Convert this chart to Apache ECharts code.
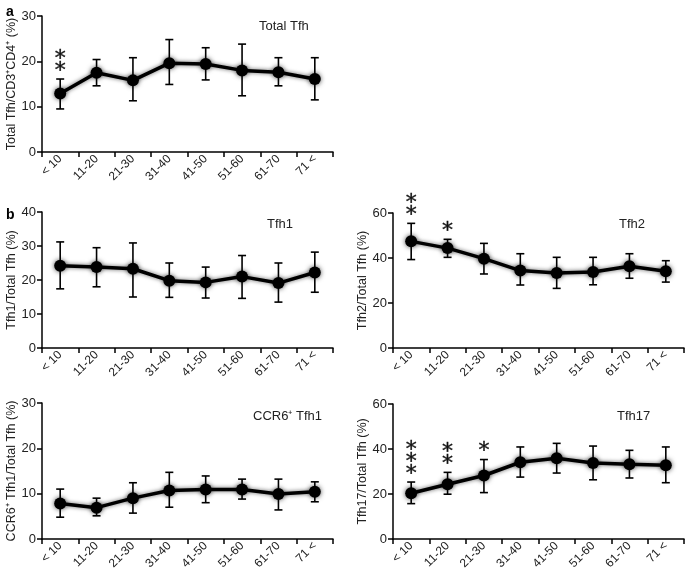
<!DOCTYPE html>
<html>
<head>
<meta charset="utf-8">
<script src="https://cdn.jsdelivr.net/npm/echarts@6/dist/echarts.min.js"></script>
<style>html,body{margin:0;padding:0;background:#fff}#c{width:685px;height:572px}</style>
</head>
<body>
<div id="c"></div>
<script>
const categories = ['< 10','11-20','21-30','31-40','41-50','51-60','61-70','71 <'];

const totalMean = [12.9,17.5,15.8,19.6,19.4,18.0,17.6,16.1];
const totalLow  = [9.5,14.6,11.3,14.9,15.9,12.4,14.6,11.5];
const totalHigh = [16.1,20.4,20.8,24.8,23.0,23.8,20.8,20.8];
const totalSig  = [2,0,0,0,0,0,0,0];

const tfh1Mean = [24.2,23.8,23.3,19.8,19.3,21.0,19.1,22.2];
const tfh1Low  = [17.4,18.0,15.0,14.9,14.7,14.6,13.5,16.4];
const tfh1High = [31.2,29.5,30.9,25.0,23.8,27.2,25.0,28.2];
const tfh1Sig  = [0,0,0,0,0,0,0,0];

const tfh2Mean = [47.4,44.4,39.7,34.4,33.3,33.8,36.3,34.1];
const tfh2Low  = [39.3,40.3,32.9,28.0,26.5,28.1,31.0,29.3];
const tfh2High = [55.4,48.3,46.5,41.9,40.3,40.3,41.9,38.8];
const tfh2Sig  = [2,1,0,0,0,0,0,0];

const ccr6Mean = [7.8,6.9,9.0,10.7,10.9,10.9,9.9,10.4];
const ccr6Low  = [4.8,5.1,5.7,7.0,8.0,8.8,6.4,8.2];
const ccr6High = [11.0,9.0,12.4,14.7,13.9,13.2,13.2,12.6];
const ccr6Sig  = [0,0,0,0,0,0,0,0];

const tfh17Mean = [20.3,24.3,28.2,34.1,35.9,33.8,33.2,32.8];
const tfh17Low  = [15.7,19.9,20.6,27.5,29.3,26.3,27.1,25.0];
const tfh17High = [25.3,29.6,35.3,40.9,42.5,41.3,39.4,40.9];
const tfh17Sig  = [3,2,1,0,0,0,0,0];

const panelTitles = ['Total Tfh','Tfh1','Tfh2','CCR6\u207A Tfh1','Tfh17'];
const yNames = ['Total Tfh/CD3\u207ACD4\u207A (%)','Tfh1/Total Tfh (%)','Tfh2/Total Tfh (%)','CCR6\u207A Tfh1/Total Tfh (%)','Tfh17/Total Tfh (%)'];
const yMax = [30,40,60,30,60];
const yInterval = [10,10,20,10,20];

const panels = [
  {mean: totalMean, low: totalLow, high: totalHigh, sig: totalSig},
  {mean: tfh1Mean, low: tfh1Low, high: tfh1High, sig: tfh1Sig},
  {mean: tfh2Mean, low: tfh2Low, high: tfh2High, sig: tfh2Sig},
  {mean: ccr6Mean, low: ccr6Low, high: ccr6High, sig: ccr6Sig},
  {mean: tfh17Mean, low: tfh17Low, high: tfh17High, sig: tfh17Sig}
];

const FONT = 'Liberation Sans';
const grids = [
  {left: 42, top: 16, width: 291, height: 136},
  {left: 42, top: 212, width: 291, height: 136},
  {left: 393, top: 213, width: 291, height: 135},
  {left: 42, top: 403, width: 291, height: 136},
  {left: 393, top: 404, width: 291, height: 136}
];
const titlePos = [
  {left: 254, top: 15},
  {left: 262, top: 213},
  {left: 614, top: 213},
  {left: 248, top: 405},
  {left: 612, top: 405}
];

const xAxes = grids.map((g, i) => ({
  type: 'category', gridIndex: i, data: categories, boundaryGap: true,
  axisLine: {lineStyle: {color: '#000', width: 1.5}},
  axisTick: {show: true, length: 5, lineStyle: {color: '#000', width: 1.5}},
  axisLabel: {rotate: 45, fontSize: 12, color: '#222', margin: 5, fontFamily: FONT}
}));
const yAxes = grids.map((g, i) => ({
  type: 'value', gridIndex: i, min: 0, max: yMax[i], interval: yInterval[i],
  name: yNames[i], nameLocation: 'middle', nameGap: 23,
  nameTextStyle: {fontSize: 12.5, color: '#222', fontFamily: FONT},
  splitLine: {show: false},
  axisLine: {show: true, lineStyle: {color: '#000', width: 1.5}},
  axisTick: {show: true, length: 5, lineStyle: {color: '#000', width: 1.5}},
  axisLabel: {fontSize: 13, color: '#222', margin: 6, fontFamily: FONT}
}));

const series = [];
panels.forEach((p, i) => {
  series.push({
    type: 'custom', xAxisIndex: i, yAxisIndex: i, z: 1,
    data: p.mean.map((m, k) => [k, p.low[k], p.high[k], p.sig[k]]),
    renderItem: function (params, api) {
      const k = api.value(0);
      const lo = api.coord([k, api.value(1)]);
      const hi = api.coord([k, api.value(2)]);
      const n = api.value(3);
      const cap = 4;
      const st = {stroke: '#000', lineWidth: 1.6};
      const children = [
        {type: 'line', shape: {x1: lo[0], y1: lo[1], x2: hi[0], y2: hi[1]}, style: st},
        {type: 'line', shape: {x1: hi[0] - cap, y1: hi[1], x2: hi[0] + cap, y2: hi[1]}, style: st},
        {type: 'line', shape: {x1: lo[0] - cap, y1: lo[1], x2: lo[0] + cap, y2: lo[1]}, style: st}
      ];
      for (let s = 0; s < n; s++) {
        children.push({
          type: 'text',
          style: {text: '*', x: hi[0], y: hi[1] - 8 - s * 12, textAlign: 'center', textVerticalAlign: 'middle',
                  font: '22px "DejaVu Sans"', fill: '#111', stroke: '#111', lineWidth: 0.4}
        });
      }
      return {type: 'group', children: children};
    }
  });
  series.push({
    type: 'line', xAxisIndex: i, yAxisIndex: i, z: 3, data: p.mean,
    symbol: 'circle', symbolSize: 12,
    lineStyle: {color: '#000', width: 3.5, shadowBlur: 4, shadowColor: 'rgba(0,0,0,0.6)'},
    itemStyle: {color: '#000', shadowBlur: 5, shadowColor: 'rgba(0,0,0,0.7)'},
    animation: false
  });
});

const titles = panelTitles.map((t, i) => ({
  text: t, left: titlePos[i].left, top: titlePos[i].top,
  textStyle: {fontSize: 13, fontWeight: 'normal', color: '#222', fontFamily: FONT}
}));
titles.push({text: 'a', left: 1, top: 0, textStyle: {fontSize: 14, fontWeight: 'bold', color: '#000', fontFamily: FONT}});
titles.push({text: 'b', left: 1, top: 203, textStyle: {fontSize: 14, fontWeight: 'bold', color: '#000', fontFamily: FONT}});

const chart = echarts.init(document.getElementById('c'));
chart.setOption({
  animation: false,
  title: titles,
  grid: grids,
  xAxis: xAxes,
  yAxis: yAxes,
  series: series
});
</script>
</body>
</html>
